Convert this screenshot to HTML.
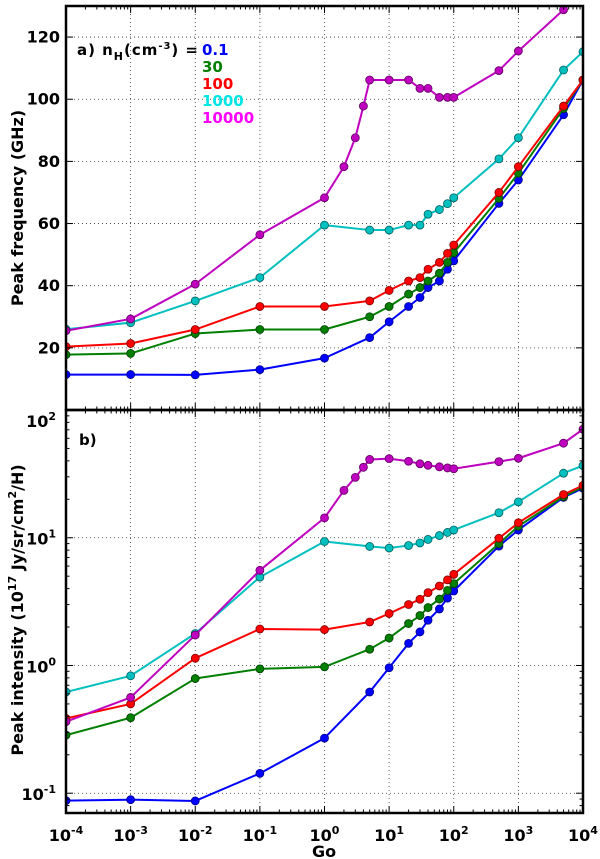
<!DOCTYPE html>
<html><head><meta charset="utf-8">
<style>
html,body{margin:0;padding:0;background:#fff;}
svg{display:block;font-family:"DejaVu Sans","Liberation Sans",sans-serif;font-weight:bold;}
</style></head>
<body>
<svg id="chart" width="600" height="859" viewBox="0 0 600 859" xmlns="http://www.w3.org/2000/svg">
<g id="grid"></g>
<g id="series"></g>
<g id="axes"></g>
<g id="labels"></g>
</svg>
<script>
// ---- data ----
const gBase = [1e-4,1e-3,1e-2,0.1,1,5,10,20,30,40,60,80,100,500,1000,5000,1e4];
const gMag  = [1e-4,1e-3,1e-2,0.1,1,2,3,4,5,10,20,30,40,60,80,100,500,1000,5000,1e4];
const freqBlue  = [11.4,11.4,11.3,13,16.7,23.3,28.4,33.3,36.2,39.4,41.5,45.3,48,66.5,74,95,106.2];
const freqGreen = [17.8,18.2,24.6,25.9,25.9,30,33.3,37.3,39.4,41.5,44,47.5,50.6,68.1,76.2,97,106.2];
const freqRed   = [20.4,21.4,25.9,33.3,33.3,35.1,38.5,41.5,42.6,45.3,47.5,50.4,53.1,70,78.3,97.8,106.2];
const freqCyan  = [26,28.1,35.1,42.6,59.5,57.9,57.9,59.5,59.5,63,64.5,66.4,68.3,80.8,87.6,109.4,115.3];
const freqMag   = [25.5,29.3,40.5,56.4,68.3,78.3,87.6,97.8,106.2,106.2,106.2,103.5,103.5,100.6,100.6,100.6,109.2,115.5,128.8,135];
const intBlue  = [0.0875,0.089,0.087,0.143,0.27,0.62,0.96,1.49,1.83,2.26,2.77,3.37,3.83,8.6,11.5,20.7,24.4];
const intGreen = [0.285,0.39,0.79,0.94,0.975,1.34,1.64,2.13,2.46,2.84,3.31,3.87,4.37,9,12.3,21,25];
const intRed   = [0.385,0.50,1.14,1.93,1.91,2.19,2.55,3.0,3.3,3.72,4.19,4.68,5.17,9.9,13.1,21.8,25.7];
const intCyan  = [0.62,0.83,1.78,4.92,9.34,8.55,8.3,8.7,9.1,9.7,10.4,11,11.5,15.7,19.1,32,36.7];
const intMag   = [0.363,0.562,1.73,5.56,14.3,23.5,29.7,35.6,41,41.6,39.7,37.9,36.9,35.9,35.2,34.7,39.4,41.9,55,70.7];
const xTickExp = [-4,-3,-2,-1,0,1,2,3,4];
const topTicks = [20,40,60,80,100,120];
const botTickExp = [-1,0,1,2];
const legendLabels = ["0.1","30","100","1000","10000"];

// ---- geometry ----
const X0=66, X1=583, TOP0=6, TOP1=410, BOT0=410, BOT1=813;
const fyMin=0, fyMax=130, lyMin=Math.log10(0.07), lyMax=2.0;
const NS="http://www.w3.org/2000/svg";
function xs(g){return X0+(Math.log10(g)+4)/8*(X1-X0);}
function yTop(v){return TOP1-(v-fyMin)/(fyMax-fyMin)*(TOP1-TOP0);}
function yBot(v){return BOT1-(Math.log10(v)-lyMin)/(lyMax-lyMin)*(BOT1-BOT0);}
function mk(tag,attrs,parent){const e=document.createElementNS(NS,tag);for(const k in attrs)e.setAttribute(k,attrs[k]);parent.appendChild(e);return e;}
const grid=document.getElementById('grid'),series=document.getElementById('series'),axes=document.getElementById('axes'),labels=document.getElementById('labels');

const defs=mk('defs',{},document.getElementById('chart'));
const c1=mk('clipPath',{id:'clipTop'},defs);mk('rect',{x:X0,y:TOP0,width:X1-X0,height:TOP1-TOP0},c1);
const c2=mk('clipPath',{id:'clipBot'},defs);mk('rect',{x:X0,y:BOT0,width:X1-X0,height:BOT1-BOT0},c2);

// grid
const gs={stroke:'#333','stroke-width':0.8,'stroke-dasharray':'1,3'};
xTickExp.slice(1,-1).forEach(e=>{
  const x=xs(Math.pow(10,e));
  const l1=mk('line',Object.assign({x1:x,x2:x,y1:TOP0,y2:TOP1},gs),grid);
  
  
  const l2=mk('line',Object.assign({x1:x,x2:x,y1:BOT0,y2:BOT1},gs),grid);
  
  
});
topTicks.forEach(v=>{
  const y=yTop(v);
  const l=mk('line',Object.assign({x1:X0,x2:X1,y1:y,y2:y},gs),grid);
  
  
});
botTickExp.forEach(e=>{
  const y=yBot(Math.pow(10,e));
  if(y<BOT0+2)return;
  const l=mk('line',Object.assign({x1:X0,x2:X1,y1:y,y2:y},gs),grid);
  
  
});

// series
const colors={blue:['#0000ff','#00008a'],green:['#007f00','#003f00'],red:['#ff0000','#7f0000'],cyan:['#00bfbf','#005f5f'],mag:['#bf00bf','#5f005f']};
function drawSeries(xsArr,vals,yf,col,clip,name){
  const g=mk('g',{'clip-path':'url(#'+clip+')'},series);
  
  
  const pts=vals.map((v,i)=>xs(xsArr[i]).toFixed(2)+','+yf(v).toFixed(2)).join(' ');
  const pl=mk('polyline',{points:pts,fill:'none',stroke:col[0],'stroke-width':2,'stroke-linejoin':'round'},g);
  
  
  vals.forEach((v,i)=>{
    const c=mk('circle',{cx:xs(xsArr[i]),cy:yf(v),r:4,fill:col[0],stroke:col[1],'stroke-width':0.8},g);
    
    
  });
}
drawSeries(gBase,freqBlue,yTop,colors.blue,'clipTop','freq-series-0.1');
drawSeries(gBase,freqGreen,yTop,colors.green,'clipTop','freq-series-30');
drawSeries(gBase,freqRed,yTop,colors.red,'clipTop','freq-series-100');
drawSeries(gBase,freqCyan,yTop,colors.cyan,'clipTop','freq-series-1000');
drawSeries(gMag,freqMag,yTop,colors.mag,'clipTop','freq-series-10000');
drawSeries(gBase,intBlue,yBot,colors.blue,'clipBot','intensity-series-0.1');
drawSeries(gBase,intGreen,yBot,colors.green,'clipBot','intensity-series-30');
drawSeries(gBase,intRed,yBot,colors.red,'clipBot','intensity-series-100');
drawSeries(gBase,intCyan,yBot,colors.cyan,'clipBot','intensity-series-1000');
drawSeries(gMag,intMag,yBot,colors.mag,'clipBot','intensity-series-10000');

// axes frames
function frame(y0,y1,name){
  const r=mk('rect',{x:X0,y:y0,width:X1-X0,height:y1-y0,fill:'none',stroke:'#000','stroke-width':2.5},axes);
  
  
}
frame(TOP0,TOP1,'top-panel-frame');
frame(BOT0,BOT1,'bottom-panel-frame');
function tick(x1,y1,x2,y2){const t=mk('line',{x1:x1,y1:y1,x2:x2,y2:y2,stroke:'#000','stroke-width':1},axes);}
for(let e=-4;e<4;e++){
  for(let m=1;m<10;m++){
    const x=xs(m*Math.pow(10,e)); const L=m==1?7:3.5;
    [[TOP0,1],[TOP1,-1],[BOT0,1],[BOT1,-1]].forEach(([y,d])=>tick(x,y,x,y+d*L));
  }
}
topTicks.forEach(v=>{const y=yTop(v);tick(X0,y,X0+7,y);tick(X1,y,X1-7,y);});
for(let e=-2;e<2;e++){for(let m=1;m<10;m++){const v=m*Math.pow(10,e);const y=yBot(v);if(y>BOT1||y<BOT0)continue;const L=m==1?7:3.5;tick(X0,y,X0+L,y);tick(X1,y,X1-L,y);}}

// tick labels
function txt(x,y,s,attrs,name){const t=mk('text',Object.assign({x:x,y:y},attrs||{}),labels);t.innerHTML=s;return t;}
xTickExp.forEach(e=>{
  txt(xs(Math.pow(10,e)),841,'10<tspan dy="-7" font-size="11">'+e+'</tspan>',{'text-anchor':'middle','font-size':16},'x-tick-label');
});
topTicks.forEach(v=>{txt(X0-6,yTop(v)+5.5,String(v),{'text-anchor':'end','font-size':16},'y-tick-label-top');});
botTickExp.forEach(e=>{
  let y=yBot(Math.pow(10,e));
  if(e===2) y=420;
  txt(X0-10,y+7,'10<tspan dy="-7" font-size="11">'+e+'</tspan>',{'text-anchor':'end','font-size':16},'y-tick-label-bottom');
});
txt(324,857,'Go',{'text-anchor':'middle','font-size':16},'x-axis-title');
txt(0,0,'Peak frequency (GHz)',{'text-anchor':'middle','font-size':16,transform:'translate(23,208) rotate(-90)'},'y-axis-title-top');
txt(0,0,'Peak intensity (10<tspan dy="-7" font-size="11">17</tspan><tspan dy="7"> Jy/sr/cm</tspan><tspan dy="-7" font-size="11">2</tspan><tspan dy="7">/H)</tspan>',{'text-anchor':'middle','font-size':16,transform:'translate(23,610) rotate(-90)'},'y-axis-title-bottom');

// legend / annotations
txt(77,55,'a) n<tspan dy="5" font-size="11">H</tspan><tspan dy="-5">(cm</tspan><tspan dy="-6" font-size="10">-3</tspan><tspan dy="6">) =</tspan>',{'font-size':15,textLength:121},'panel-a-label');
const legCols=['#0000ff','#007f00','#ff0000','#00e5e5','#ff00ff'];
legendLabels.forEach((s,i)=>{txt(202,55+i*17,s,{'font-size':15,fill:legCols[i]},'legend-entry');});
txt(79,445,'b)',{'font-size':15},'panel-b-label');
</script>
</body></html>
